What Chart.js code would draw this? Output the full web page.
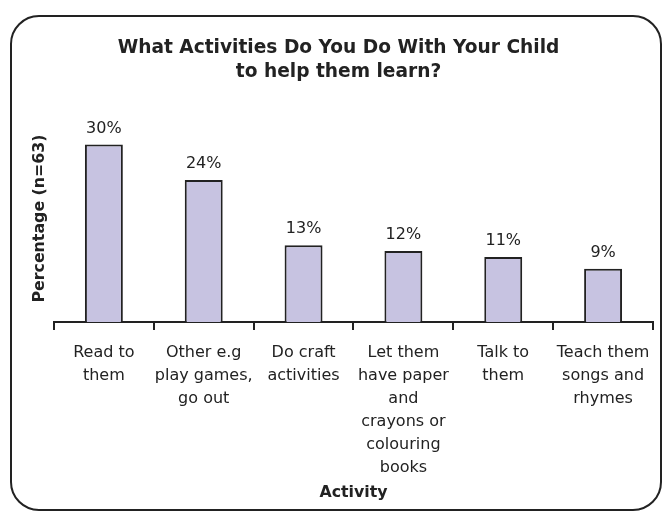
<!DOCTYPE html>
<html>
<head>
<meta charset="utf-8">
<title>What Activities Do You Do With Your Child</title>
<script src="https://cdn.jsdelivr.net/npm/chart.js@4.4.1/dist/chart.umd.min.js"></script>
<style>
    html, body { margin: 0; padding: 0; background: #fff; }
    #wrap { width: 663px; height: 512px; }
</style>
</head>
<body>
<div id="wrap"><canvas id="activityChart" width="663" height="512"></canvas></div>
<script>
// Chart data
const categories = [
    ['Read to', 'them'],
    ['Other e.g', 'play games,', 'go out'],
    ['Do craft', 'activities'],
    ['Let them', 'have paper', 'and', 'crayons or', 'colouring', 'books'],
    ['Talk to', 'them'],
    ['Teach them', 'songs and', 'rhymes']
];
const percentages = [30, 24, 13, 12, 11, 9];

const titleLines = ['What Activities Do You Do With Your Child', 'to help them learn?'];
const yAxisTitle = 'Percentage (n=63)';
const xAxisTitle = 'Activity';

const FONT = "'DejaVu Sans', Verdana, sans-serif";
const INK = '#222222';

document.addEventListener('DOMContentLoaded', function() {
    // White page with rounded frame
    const framePlugin = {
        id: 'frame',
        beforeDraw(chart) {
            const ctx = chart.ctx;
            ctx.save();
            ctx.fillStyle = '#ffffff';
            ctx.fillRect(0, 0, chart.width, chart.height);
            ctx.beginPath();
            ctx.roundRect(11, 16, 650, 494, 28);
            ctx.lineWidth = 2;
            ctx.strokeStyle = INK;
            ctx.stroke();
            ctx.restore();
        }
    };

    // Value labels above each bar
    const valueLabels = {
        id: 'valueLabels',
        afterDatasetsDraw(chart) {
            const ctx = chart.ctx;
            const meta = chart.getDatasetMeta(0);
            ctx.save();
            ctx.font = '16px ' + FONT;
            ctx.fillStyle = INK;
            ctx.textAlign = 'center';
            ctx.textBaseline = 'middle';
            meta.data.forEach(function(bar, i) {
                ctx.fillText(percentages[i] + '%', bar.x, bar.y - 16);
            });
            ctx.restore();
        }
    };

    new Chart(document.getElementById('activityChart'), {
        type: 'bar',
        data: {
            labels: categories,
            datasets: [{
                data: percentages,
                backgroundColor: '#c7c3e1',
                borderColor: INK,
                borderWidth: 2,
                barPercentage: 0.38,
                categoryPercentage: 1
            }]
        },
        options: {
            responsive: false,
            animation: false,
            layout: {
                padding: { left: 24, right: 10, top: 0, bottom: 0 }
            },
            plugins: {
                legend: { display: false },
                tooltip: { enabled: false },
                title: {
                    display: true,
                    text: titleLines,
                    color: INK,
                    font: { family: FONT, size: 18.6, weight: 'bold', lineHeight: 1.29 },
                    padding: { top: 36, bottom: 31 }
                }
            },
            scales: {
                x: {
                    grid: {
                        display: true,
                        drawOnChartArea: false,
                        drawTicks: true,
                        tickLength: 8,
                        color: INK,
                        lineWidth: 2
                    },
                    border: { display: true, color: INK, width: 2 },
                    ticks: {
                        color: INK,
                        padding: 11,
                        maxRotation: 0,
                        autoSkip: false,
                        font: { family: FONT, size: 16, lineHeight: 1.4375 }
                    },
                    title: {
                        display: true,
                        text: xAxisTitle,
                        color: INK,
                        font: { family: FONT, size: 15.8, weight: 'bold', lineHeight: 1.2 },
                        padding: { top: -7, bottom: 10 }
                    }
                },
                y: {
                    min: 0,
                    max: 35,
                    grid: { display: false, drawTicks: false },
                    border: { display: false },
                    ticks: { display: false },
                    title: {
                        display: true,
                        text: yAxisTitle,
                        color: INK,
                        font: { family: FONT, size: 15.8, weight: 'bold', lineHeight: 1.2 },
                        padding: { top: 6, bottom: 5 }
                    }
                }
            }
        },
        plugins: [framePlugin, valueLabels]
    });
});
</script>
</body>
</html>
